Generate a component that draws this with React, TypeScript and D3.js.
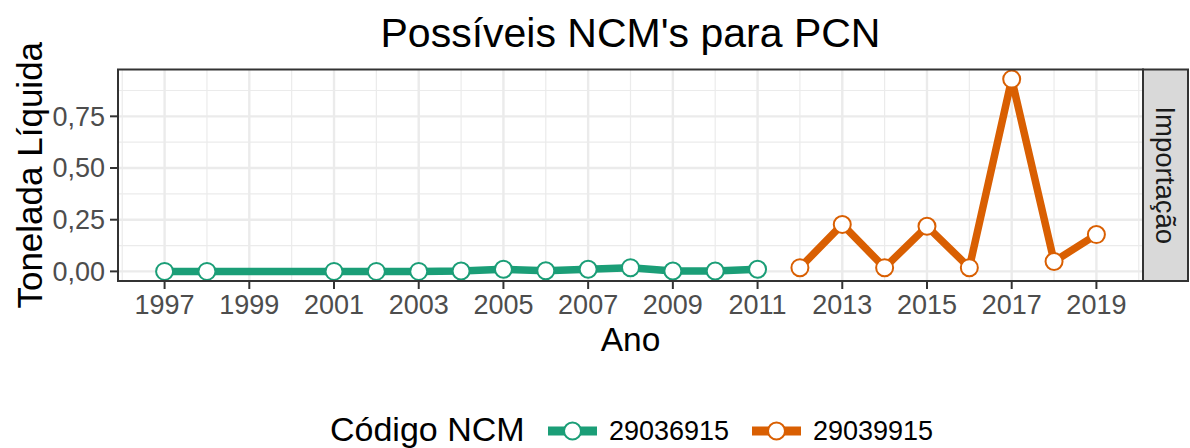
import React from "react";
import * as d3 from "d3";

const years1 = [1997, 1998, 2001, 2002, 2003, 2004, 2005, 2006, 2007, 2008, 2009, 2010, 2011];
const values1 = [0.0, 0.0, 0.0, 0.0, 0.0, 0.002, 0.01, 0.003, 0.01, 0.018, 0.002, 0.002, 0.01];
const years2 = [2012, 2013, 2014, 2015, 2016, 2017, 2018, 2019];
const values2 = [0.018, 0.227, 0.018, 0.218, 0.018, 0.93, 0.048, 0.178];
const seriesNames = ["29036915", "29039915"];
const seriesColors = ["#1B9E77", "#D95F02"];
const xTicks = [1997, 1999, 2001, 2003, 2005, 2007, 2009, 2011, 2013, 2015, 2017, 2019];
const yTicks = [0, 0.25, 0.5, 0.75];
const yMinor = [0.125, 0.375, 0.625, 0.875];

const W = 1190, H = 448;
const pL = 118, pR = 1143, pT = 69.5, pB = 281;
const stripR = 1188;
const FONT = "'Liberation Sans', Arial, sans-serif";

export default function App() {
  const xMin = 1997, xMax = 2019;
  const xe = (xMax - xMin) * 0.05;
  const x = d3.scaleLinear().domain([xMin - xe, xMax + xe]).range([pL, pR]);
  const yMaxD = d3.max(values2) as number;
  const ye = yMaxD * 0.05;
  const y = d3.scaleLinear().domain([0 - ye, yMaxD + ye]).range([pB, pT]);
  const fmt = (v: number) => v.toFixed(2).replace(".", ",");
  const line = d3.line<[number, number]>().x(d => x(d[0])).y(d => y(d[1]));
  const series = [
    years1.map((yr, i) => [yr, values1[i]] as [number, number]),
    years2.map((yr, i) => [yr, values2[i]] as [number, number]),
  ];
  const xMinorTicks = d3.range(1998, 2020, 2).concat([1996, 2020]).filter(v => x(v) > pL && x(v) < pR);

  return (
    <svg width={W} height={H} style={{ display: "block", position: "absolute", left: 0, top: 0 }} fontFamily={FONT}>
      <rect x={0} y={0} width={W} height={H} fill="#fff" />
      {/* title */}
      <text x={(pL + pR) / 2} y={47} textAnchor="middle" fontSize={41} fill="#000">Possíveis NCM's para PCN</text>
      {/* panel */}
      <rect x={pL} y={pT} width={pR - pL} height={pB - pT} fill="#fff" />
      {yMinor.map(v => (
        <line key={"ym" + v} x1={pL} x2={pR} y1={y(v)} y2={y(v)} stroke="#EBEBEB" strokeWidth={1.2} />
      ))}
      {xMinorTicks.map(v => (
        <line key={"xm" + v} x1={x(v)} x2={x(v)} y1={pT} y2={pB} stroke="#EBEBEB" strokeWidth={1.2} />
      ))}
      {yTicks.map(v => (
        <line key={"yg" + v} x1={pL} x2={pR} y1={y(v)} y2={y(v)} stroke="#EBEBEB" strokeWidth={2.4} />
      ))}
      {xTicks.map(v => (
        <line key={"xg" + v} x1={x(v)} x2={x(v)} y1={pT} y2={pB} stroke="#EBEBEB" strokeWidth={2.4} />
      ))}
      {series.map((s, i) => (
        <path key={"l" + i} d={line(s) || ""} fill="none" stroke={seriesColors[i]} strokeWidth={7.5} strokeLinejoin="round" />
      ))}
      {series.map((s, i) =>
        s.map(d => (
          <circle key={"p" + i + d[0]} cx={x(d[0])} cy={y(d[1])} r={8.5} fill="#fff" stroke={seriesColors[i]} strokeWidth={2} />
        ))
      )}
      <rect x={pL} y={pT} width={pR - pL} height={pB - pT} fill="none" stroke="#333333" strokeWidth={2} />
      {/* strip */}
      <rect x={pR} y={pT} width={stripR - pR} height={pB - pT} fill="#D9D9D9" stroke="#333333" strokeWidth={2} />
      <text transform={`translate(${(pR + stripR) / 2},${(pT + pB) / 2}) rotate(90)`} textAnchor="middle" dy="0.35em" fontSize={27.5} fill="#1A1A1A">Importação</text>
      {/* y axis */}
      {yTicks.map(v => (
        <g key={"yt" + v}>
          <line x1={pL - 8} x2={pL} y1={y(v)} y2={y(v)} stroke="#333333" strokeWidth={2} />
          <text x={pL - 13} y={y(v)} dy="0.35em" textAnchor="end" fontSize={27} fill="#4D4D4D">{fmt(v)}</text>
        </g>
      ))}
      {/* x axis */}
      {xTicks.map(v => (
        <g key={"xt" + v}>
          <line x1={x(v)} x2={x(v)} y1={pB} y2={pB + 8} stroke="#333333" strokeWidth={2} />
          <text x={x(v)} y={314} textAnchor="middle" fontSize={27} fill="#4D4D4D">{v}</text>
        </g>
      ))}
      <text x={(pL + pR) / 2} y={351} textAnchor="middle" fontSize={33.5} fill="#000">Ano</text>
      <text transform={`translate(42,${(pT + pB) / 2}) rotate(-90)`} textAnchor="middle" fontSize={35} fill="#000">Tonelada Líquida</text>
      {/* legend */}
      <text x={330} y={441} fontSize={34} fill="#000">Código NCM</text>
      {seriesNames.map((n, i) => {
        const kx = 548 + i * 204;
        return (
          <g key={"lg" + i}>
            <line x1={kx} x2={kx + 49} y1={431} y2={431} stroke={seriesColors[i]} strokeWidth={9} />
            <circle cx={kx + 24.5} cy={431} r={8.5} fill="#fff" stroke={seriesColors[i]} strokeWidth={2} />
            <text x={kx + 61} y={440} fontSize={27} fill="#000">{n}</text>
          </g>
        );
      })}
    </svg>
  );
}
